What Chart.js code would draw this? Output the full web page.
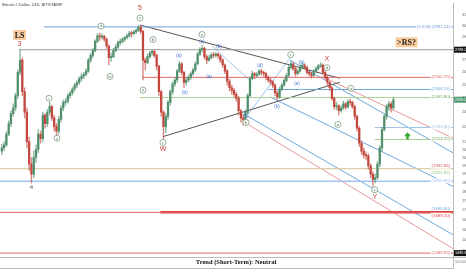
<!DOCTYPE html>
<html>
<head>
<meta charset="utf-8">
<script src="https://cdn.jsdelivr.net/npm/chart.js@4.4.1/dist/chart.umd.min.js"></script>
<style>
html, body { margin: 0; padding: 0; background: #fff; overflow: hidden; }
</style>
</head>
<body>
<canvas id="chart" width="466" height="275"></canvas>
<script>
// BTC/USD 8h candles, days counted from Jun 1 2017
const candleStartDay = -9;
const candleStepDay = 1 / 3;
const firstOpen = 2040;
const closes = [
    2060, 2080, 2150,  2220, 2290, 2330,  2420, 2600, 2700,  2450, 2300, 2100,
    1960, 1900, 2000,  2050, 2150, 2120,  2280, 2220, 2300,  2340, 2260, 2200,
    2170, 2250, 2330,  2370, 2380, 2420,  2440, 2470, 2500,  2520, 2550, 2570,
    2585, 2610, 2700,  2740, 2780, 2860,  2910, 2900, 2905,  2880, 2820, 2720,
    2730, 2780, 2810,  2850, 2860, 2880,  2895, 2910, 2935,  2930, 2945, 2960,
    2990, 2950, 2700,  2680, 2730, 2760,  2775, 2740, 2650,  2450, 2300, 2200,
    2270, 2370, 2450,  2510, 2540, 2610,  2670, 2600, 2520,  2540, 2560, 2590,
    2620, 2670, 2750,  2790, 2800, 2730,  2700, 2720, 2745,  2740, 2750, 2735,
    2700, 2660, 2610,  2530, 2480, 2460,  2430, 2400, 2310,  2260, 2250, 2300,
    2420, 2550, 2590,  2575, 2585, 2610,  2600, 2590, 2560,  2540, 2525, 2500,
    2440, 2410, 2470,  2500, 2535, 2575,  2640, 2670, 2630,  2590, 2610, 2645,
    2660, 2640, 2600,  2590, 2575, 2610,  2630, 2650, 2660,  2600, 2560, 2520,
    2480, 2400, 2340,  2345, 2310, 2330,  2360, 2335, 2375,  2370, 2340, 2270,
    2190, 2090, 2040,  2015, 2010, 1950,  1900, 1870, 1880,  1960, 2060, 2180,
    2270, 2340, 2360,  2330, 2390
];
const highs = [
    2085, 2100, 2165,  2240, 2310, 2360,  2440, 2620, 2790,  2720, 2480, 2330,
    2130, 2000, 2040,  2080, 2180, 2170,  2300, 2290, 2320,  2370, 2350, 2280,
    2220, 2270, 2345,  2390, 2400, 2435,  2455, 2485, 2515,  2535, 2565, 2590,
    2600, 2630, 2715,  2760, 2800, 2875,  2930, 2935, 2925,  2915, 2890, 2830,
    2760, 2800, 2830,  2865, 2880, 2895,  2905, 2925, 2950,  2950, 2960, 2975,
    3005, 2995, 2960,  2720, 2750, 2775,  2790, 2785, 2750,  2660, 2460, 2310,
    2290, 2385, 2465,  2525, 2560, 2625,  2690, 2680, 2610,  2560, 2580, 2605,
    2635, 2685, 2765,  2805, 2825, 2810,  2745, 2740, 2760,  2765, 2765, 2760,
    2745, 2715, 2670,  2625, 2545, 2500,  2475, 2445, 2415,  2320, 2285, 2315,
    2435, 2565, 2610,  2600, 2600, 2625,  2625, 2610, 2600,  2575, 2555, 2535,
    2510, 2455, 2485,  2515, 2550, 2590,  2655, 2690, 2680,  2640, 2625, 2660,
    2675, 2670, 2650,  2615, 2600, 2625,  2645, 2665, 2680,  2670, 2615, 2575,
    2530, 2490, 2410,  2370, 2355, 2345,  2380, 2370, 2390,  2395, 2380, 2350,
    2280, 2200, 2105,  2060, 2035, 2025,  1960, 1915, 1900,  1975, 2075, 2195,
    2285, 2355, 2380,  2375, 2405
];
const lows = [
    2020, 2045, 2070,  2140, 2200, 2270,  2310, 2400, 2580,  2420, 2260, 2060,
    1920, 1850, 1880,  1970, 2030, 2090,  2100, 2190, 2200,  2280, 2240, 2170,
    2130, 2150, 2230,  2310, 2350, 2365,  2400, 2425, 2455,  2480, 2505, 2530,
    2550, 2570, 2600,  2680, 2720, 2770,  2850, 2870, 2880,  2860, 2800, 2660,
    2690, 2720, 2770,  2800, 2830, 2845,  2860, 2880, 2895,  2900, 2915, 2930,
    2950, 2930, 2540,  2620, 2670, 2715,  2740, 2720, 2620,  2420, 2270, 2120,
    2160, 2250, 2350,  2430, 2490, 2520,  2600, 2580, 2480,  2500, 2525, 2545,
    2575, 2605, 2660,  2740, 2770, 2710,  2670, 2690, 2710,  2720, 2725, 2715,
    2680, 2640, 2590,  2500, 2455, 2430,  2410, 2380, 2280,  2230, 2210, 2240,
    2290, 2410, 2540,  2550, 2560, 2575,  2580, 2570, 2540,  2520, 2505, 2480,
    2420, 2390, 2400,  2455, 2490, 2525,  2565, 2625, 2615,  2570, 2580, 2600,
    2630, 2625, 2585,  2570, 2555, 2565,  2600, 2620, 2640,  2585, 2545, 2500,
    2460, 2385, 2320,  2320, 2280, 2300,  2320, 2320, 2330,  2350, 2325, 2250,
    2170, 2070, 2020,  1995, 1985, 1930,  1880, 1830, 1850,  1870, 1945, 2040,
    2170, 2250, 2310,  2300, 2320
];

const xTickDays = [-7, -3, 0, 4, 7, 11, 14, 18, 21, 25, 30, 33, 36, 39, 42, 46, 49, 53, 56];
const xTickLabels = ['25', '29', 'Jun', '5', '8', '12', '15', '19', '22', '26', 'Jul', '4', '7', '10', '13', '17', '20', '24', '27'];
const yTickValues = [3100, 3000, 2900, 2800, 2700, 2600, 2500, 2400, 2300, 2200, 2100, 2050, 2000, 1950, 1900, 1850, 1800, 1750, 1700, 1650, 1600, 1550, 1500];

// horizontal levels
const levelPrices = [2991.24, 2788, 2560.75, 2466.24, 2405.80, 2193.80, 2114.25, 1932.86, 1925.97, 1858.86, 1696.80, 1689.20, 1689.20, 1489.85];
const levelLabels = ['[1.618] (2991.24)', '', '(2560.75)', '(2466.24)', '(2405.80)', '(2193.80)', '(2114.25)', '(1932.86)', '(1925.97)', '(1858.86)', '(1696.80)', '', '(1689.20)', '(1489.85)'];

const X_MIN = -9.27, X_MAX = 57.06;
const Y_MIN = 1423, Y_MAX = 3217;

const UP = '#4f8f6b', DOWN = '#c4473d';

const levelStyle = [
    { from: -2.8, color: '#6f9fd8', width: 1 },
    { from: -6.5, color: '#9a9a9a', width: 1 },
    { from: 11.6, color: '#e06666', width: 1 },
    { from: 30.0, color: '#6fa8dc', width: 1 },
    { from: 11.2, color: '#a8cf90', width: 1 },
    { from: 45.6, color: '#9fc5e8', width: 1 },
    { from: 45.6, color: '#a8cf90', width: 1 },
    { from: X_MIN, color: '#dccfa8', width: 1.2 },
    { from: X_MAX, color: '#93c47d', width: 1 },
    { from: X_MIN, color: '#a4c2f4', width: 1.5 },
    { from: X_MAX, color: '#6fa8dc', width: 1 },
    { from: X_MIN, color: '#e06666', width: 1 },
    { from: 14.2, color: '#e03c3c', width: 2.5 },
    { from: X_MIN, color: '#e06666', width: 1 }
];

// diagonal trend / channel lines [day, price] -> [day, price]
const trendLines = [
    { a: [11.23, 3009], b: [40.5, 2553], color: '#555555' },
    { a: [14.6, 2133], b: [40.5, 2522], color: '#555555' },
    { a: [21.8, 2819], b: [27.4, 2533], color: '#9fc5e8' },
    { a: [26.9, 2274], b: [33.2, 2720], color: '#9fc5e8' },
    { a: [33.2, 2699], b: [58.9, 1985], color: '#6fa8dc' },
    { a: [37.9, 2567], b: [58.9, 2085], color: '#ea9999' },
    { a: [30.3, 2410], b: [58.9, 1795], color: '#6fa8dc' },
    { a: [26.9, 2274], b: [57.35, 1571], color: '#6fa8dc' },
    { a: [26.9, 2219], b: [57.35, 1505], color: '#ea9999' }
];

const opens = closes.map((c, i) => i === 0 ? firstOpen : closes[i - 1]);
const candleDays = closes.map((c, i) => candleStartDay + i * candleStepDay);
const candleColors = closes.map((c, i) => c >= opens[i] ? UP : DOWN);

const datasets = [];
datasets.push({
    type: 'bar', grouped: false, order: 2,
    data: candleDays.map((d, i) => ({ x: d, y: [lows[i], highs[i]] })),
    backgroundColor: candleColors.map(c => c + 'aa'),
    barThickness: 0.7
});
datasets.push({
    type: 'bar', grouped: false, order: 1,
    data: candleDays.map((d, i) => ({ x: d, y: [Math.min(opens[i], closes[i]), Math.max(opens[i], closes[i])] })),
    backgroundColor: candleColors,
    barThickness: 1.6, minBarLength: 1
});
levelPrices.forEach((p, i) => {
    if (levelStyle[i].from >= X_MAX) return;
    datasets.push({
        type: 'line', order: 3,
        data: [{ x: levelStyle[i].from, y: p }, { x: X_MAX, y: p }],
        borderColor: levelStyle[i].color, borderWidth: levelStyle[i].width,
        pointRadius: 0
    });
});
trendLines.forEach(t => {
    datasets.push({
        type: 'line', order: 3,
        data: [{ x: t.a[0], y: t.a[1] }, { x: t.b[0], y: t.b[1] }],
        borderColor: t.color, borderWidth: 1, pointRadius: 0
    });
});

// text annotations: [day, price, text, kind]
const notes = [
    [-6.41, 2918, 'LS', 'box'],
    [-6.41, 2840, '3', 'red'],
    [-4.66, 1822, '4', 'dark'],
    [11.23, 3169, '5', 'red'],
    [11.23, 3074, 'v', 'circle'],
    [5.53, 2999, 'iii', 'circle'],
    [6.84, 2568, 'iv', 'circle'],
    [-2.09, 2401, 'i', 'circle'],
    [-0.92, 2123, 'ii', 'circle'],
    [11.67, 2462, 'a', 'circle'],
    [13.13, 2877, 'b', 'circle'],
    [14.6, 2095, 'c', 'circle'],
    [14.6, 2050, 'W', 'red'],
    [16.94, 2737, '(a)', 'blue'],
    [17.8, 2445, '(b)', 'blue'],
    [20.3, 2922, 'a', 'circle'],
    [20.3, 2858, '(c)', 'blue'],
    [21.33, 2568, '(a)', 'blue'],
    [22.8, 2812, '(b)', 'blue'],
    [26.75, 2274, '(c)', 'blue'],
    [26.75, 2228, 'b', 'circle'],
    [28.8, 2656, '(d)', 'blue'],
    [31.3, 2337, '(b)', 'blue'],
    [33.3, 2746, 'c', 'circle'],
    [34.9, 2677, '(b)', 'blue'],
    [34.2, 2514, '(e)', 'blue'],
    [38.6, 2705, 'X', 'red'],
    [38.6, 2638, 'd', 'circle'],
    [40.2, 2215, 'e', 'circle'],
    [42.1, 2476, 'a', 'circle'],
    [45.6, 1811, 'c', 'circle'],
    [45.6, 1771, 'Y', 'red'],
    [50.25, 2853, '>RS?', 'box']
];

const overlay = {
    id: 'overlay',
    afterDatasetsDraw(chart) {
        const ctx = chart.ctx, xs = chart.scales.x, ys = chart.scales.y;
        ctx.save();
        ctx.textAlign = 'center';
        ctx.textBaseline = 'middle';
        notes.forEach(n => {
            const x = xs.getPixelForValue(n[0]), y = ys.getPixelForValue(n[1]);
            if (n[3] === 'box') {
                ctx.font = 'bold 8px "Liberation Serif"';
                const w = ctx.measureText(n[2]).width + 3;
                ctx.fillStyle = '#f9cb9c';
                ctx.fillRect(x - w / 2, y - 5, w, 10);
                ctx.fillStyle = '#222';
                ctx.fillText(n[2], x, y + 0.5);
            } else if (n[3] === 'circle') {
                ctx.fillStyle = '#fff';
                ctx.strokeStyle = '#6a8f6a';
                ctx.lineWidth = 0.7;
                ctx.beginPath();
                ctx.arc(x, y, 3, 0, Math.PI * 2);
                ctx.fill();
                ctx.stroke();
                ctx.fillStyle = '#4a6f4a';
                ctx.font = '4px "Liberation Sans"';
                ctx.fillText(n[2], x, y + 0.3);
            } else if (n[3] === 'blue') {
                ctx.fillStyle = '#3d6fd0';
                ctx.font = '4.5px "Liberation Sans"';
                ctx.fillText(n[2], x, y);
            } else if (n[3] === 'red') {
                ctx.fillStyle = '#cc3b3b';
                ctx.font = '7px "Liberation Sans"';
                ctx.fillText(n[2], x, y);
            } else {
                ctx.fillStyle = '#555';
                ctx.font = '6px "Liberation Sans"';
                ctx.fillText(n[2], x, y);
            }
        });

        // level labels at the right edge
        ctx.textAlign = 'right';
        ctx.font = '4.3px "Liberation Sans"';
        levelPrices.forEach((p, i) => {
            if (!levelLabels[i]) return;
            const y = ys.getPixelForValue(p);
            const off = (i === 8 || i === 12) ? 3 : (i === 7 || i === 10 ? -2.5 : -0.5);
            ctx.fillStyle = '#fff';
            const w = ctx.measureText(levelLabels[i]).width + 2;
            ctx.fillRect(xs.right - 2 - w, y + off - 2.5, w, 5);
            const c = levelStyle[i].color;
            ctx.fillStyle = c === '#dccfa8' ? '#d06060' : (c === '#a8cf90' ? '#6aa84f' : c);
            ctx.fillText(levelLabels[i], xs.right - 3, y + off);
        });

        // green arrow
        const ax = xs.getPixelForValue(50.4), ay = ys.getPixelForValue(2135);
        ctx.fillStyle = '#38a838';
        ctx.beginPath();
        ctx.moveTo(ax, ay - 4);
        ctx.lineTo(ax + 3.5, ay);
        ctx.lineTo(ax + 1.3, ay);
        ctx.lineTo(ax + 1.3, ay + 3);
        ctx.lineTo(ax - 1.3, ay + 3);
        ctx.lineTo(ax - 1.3, ay);
        ctx.lineTo(ax - 3.5, ay);
        ctx.closePath();
        ctx.fill();

        // trend panel
        const top = 257, bot = chart.chartArea.bottom;
        ctx.fillStyle = '#fff';
        ctx.fillRect(0, top, xs.right, bot - top);
        ctx.strokeStyle = '#bbb';
        ctx.lineWidth = 1;
        ctx.beginPath();
        ctx.moveTo(0, top + 0.5); ctx.lineTo(chart.width, top + 0.5);
        ctx.stroke();
        ctx.fillStyle = '#111';
        ctx.textAlign = 'center';
        ctx.font = 'bold 6.5px "Liberation Serif"';
        ctx.fillText('Trend (Short-Term): Neutral', 236, top + 5.5);
        ctx.fillStyle = '#777';
        ctx.textAlign = 'left';
        ctx.font = '3.5px "Liberation Sans"';
        ctx.fillText('50.0000', xs.right + 2, top + 5);

        // price tags on axis
        const tag = (p, txt, bg) => {
            const y = ys.getPixelForValue(p);
            ctx.fillStyle = bg;
            ctx.fillRect(xs.right + 1, y - 3, 13, 6);
            ctx.fillStyle = '#fff';
            ctx.font = '3.8px "Liberation Sans"';
            ctx.fillText(txt, xs.right + 2, y);
        };
        tag(2788, '2788.00', '#111');
        tag(2390, '2390.00', '#4f9a6e');
        tag(1489.85, '1489.85', '#111');

        // title
        ctx.fillStyle = '#444';
        ctx.textAlign = 'left';
        ctx.font = '4.3px "Liberation Sans"';
        ctx.fillText('Bitcoin / Dollar, 240, BITSTAMP', 2, 5);
        ctx.restore();
    }
};

new Chart(document.getElementById('chart'), {
    type: 'bar',
    data: { datasets },
    options: {
        responsive: false,
        animation: false,
        devicePixelRatio: 1,
        layout: { padding: 0 },
        plugins: { legend: { display: false }, tooltip: { enabled: false } },
        scales: {
            x: {
                type: 'linear', min: X_MIN, max: X_MAX, offset: false,
                grid: { display: false },
                border: { color: '#bbb' },
                afterBuildTicks: s => { s.ticks = xTickDays.map(v => ({ value: v })); },
                afterFit: s => { s.height = 7; },
                ticks: {
                    autoSkip: false, maxRotation: 0, padding: 1,
                    color: '#666', font: { size: 4, family: 'Liberation Sans' },
                    callback: (v) => xTickLabels[xTickDays.indexOf(v)] || ''
                }
            },
            y: {
                type: 'logarithmic', position: 'right', min: Y_MIN, max: Y_MAX,
                grid: { display: false },
                border: { color: '#bbb' },
                afterBuildTicks: s => { s.ticks = yTickValues.map(v => ({ value: v })); },
                afterFit: s => { s.width = 13; },
                ticks: {
                    padding: 1, autoSkip: false,
                    color: '#666', font: { size: 3.8, family: 'Liberation Sans' },
                    callback: (v) => v.toFixed(2)
                }
            }
        }
    },
    plugins: [overlay]
});
</script>
</body>
</html>
